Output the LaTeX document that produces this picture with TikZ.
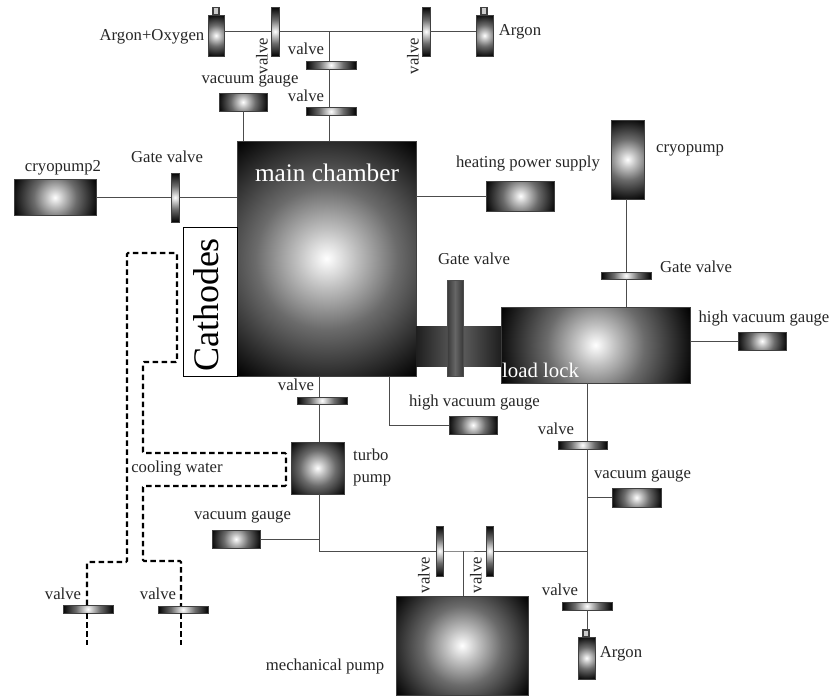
\documentclass[tikz,border=0pt]{standalone}
\usepackage{fontspec}
\setmainfont{Liberation Serif}
\usetikzlibrary{calc}
\pgfdeclareradialshading{glow}{\pgfpoint{0bp}{0bp}}{color(0bp)=(white); color(5bp)=(black!25); color(12bp)=(black!58); color(25bp)=(black); color(50bp)=(black)}
\tikzset{
	unitbox/.style={inner sep=0pt, outer sep=0pt, fill=black, draw=black!75, line width=0.6pt},
	tube/.style={inner sep=0pt, outer sep=0pt, left color=black!88, right color=black!88, middle color=black!62},
	neck/.style={draw=black!75, fill=black!20, line width=1.2pt, inner sep=0pt, outer sep=0pt},
	pipe/.style={draw=black!70, line width=1pt},
	water/.style={draw=black, line width=2.1pt, dash pattern=on 5.5pt off 3.5pt, rounded corners=1pt},
	lab/.style={font=\fontsize{16.7}{18}\selectfont, text=black!85, inner sep=0pt},
}
\begin{document}
\begin{tikzpicture}[x=1pt, y=-1pt]
	\def\unit#1#2#3#4#5{\pgfmathsetmacro\glowR{0.5*veclen(#4,#5)}
		\node[unitbox, minimum width=#4pt, minimum height=#5pt, path picture={\shade[shading=glow] (path picture bounding box.center) circle (\glowR pt);}] (#1) at (#2,#3) {};}
	\useasboundingbox (0,0) rectangle (830,696);
	% chambers
	\unit{mainchamber}{326.5}{258.5}{179}{235}
	\unit{loadlock}{595.5}{345}{189}{76}
	\node[tube, minimum width=85pt, minimum height=40pt] (tunnel) at (458.5,346) {};
	\node[tube, minimum width=16pt, minimum height=96pt, left color=black!78, right color=black!78, middle color=black!60, draw=black!70, line width=0.6pt] (gatemain) at (455,328) {};
	\node[draw=black, fill=white, line width=0.8pt, minimum width=54pt, minimum height=149pt, inner sep=0pt, outer sep=0pt] (cathodes) at (210,301.5) {};
	\node[rotate=90, inner sep=0pt, font=\fontsize{36}{36}\selectfont] (cathodeslab) at (206,305) {Cathodes};
	% pumps and supplies
	\unit{cryotwo}{55}{197.5}{82}{36}
	\unit{heating}{520.5}{196}{68}{30}
	\unit{cryopump}{627.5}{159.5}{33}{79}
	\unit{turbo}{317.5}{468}{53}{52}
	\unit{mechpump}{462}{645.5}{132}{99}
	% gauges
	\unit{gaugetop}{243}{102}{48}{18}
	\unit{gaugehigh}{762}{341}{48}{18}
	\unit{gaugemid}{473}{425}{48}{18}
	\unit{gaugeright}{636.5}{497.5}{49}{19}
	\unit{gaugeleft}{236}{539}{48}{18}
	% gas bottles
	\unit{bottlemix}{216}{35.5}{16}{41}
	\node[neck, minimum width=6pt, minimum height=7pt] (neckmix) at (216,11) {};
	\unit{bottleargon}{484.5}{35.5}{17}{41}
	\node[neck, minimum width=6pt, minimum height=7pt] (neckargon) at (484,11) {};
	\unit{bottlelow}{586.5}{658}{17}{42}
	\node[neck, minimum width=6pt, minimum height=7pt] (necklow) at (586,633.5) {};
	% valves
	\unit{valvemix}{275}{31.5}{8}{49}
	\unit{valveargon}{426}{31.5}{8}{49}
	\unit{valveone}{331}{65}{50}{8}
	\unit{valvetwo}{331}{111.5}{50}{8}
	\unit{gateleft}{175}{197.5}{8}{49}
	\unit{gatecryo}{626}{275.5}{50}{7}
	\unit{valveturbo}{322}{400.5}{50}{7}
	\unit{valvelock}{582.5}{445}{49}{8}
	\unit{valvepumpa}{439.5}{551}{7}{50}
	\unit{valvepumpb}{489.5}{551}{7}{50}
	\unit{valvelow}{587}{606}{50}{8}
	\unit{valvewatera}{88}{609}{50}{8}
	\unit{valvewaterb}{183}{609.5}{50}{7}
	% junctions
	\coordinate (mixtop) at (329,31.5);
	\coordinate (turbojoin) at (319,551);
	\coordinate (pumpjoin) at (463,551);
	\coordinate (lockjoin) at (587,551);
	% gas lines
	\draw[pipe] (bottlemix.east |- valvemix.west) -- (valvemix.west);
	\draw[pipe] (valvemix.east) -- (mixtop) -- (valveargon.west);
	\draw[pipe] (valveargon.east) -- (bottleargon.west |- valveargon.east);
	\draw[pipe] (mixtop) -- (mixtop |- valveone.north);
	\draw[pipe] (mixtop |- valveone.south) -- (mixtop |- valvetwo.north);
	\draw[pipe] (mixtop |- valvetwo.south) -- (mixtop |- mainchamber.north);
	\draw[pipe] (gaugetop.south) -- (gaugetop.south |- mainchamber.north);
	\draw[pipe] (cryotwo.east) -- (gateleft.west);
	\draw[pipe] (gateleft.east) -- (mainchamber.west |- gateleft.east);
	\draw[pipe] (mainchamber.east |- heating.west) -- (heating.west);
	\draw[pipe] (cryopump.south -| gatecryo) -- (gatecryo.north);
	\draw[pipe] (gatecryo.south) -- (gatecryo.south |- loadlock.north);
	\draw[pipe] (loadlock.east |- gaugehigh.west) -- (gaugehigh.west);
	\draw[pipe] (mainchamber.south -| turbojoin) -- (turbojoin |- valveturbo.north);
	\draw[pipe] (turbojoin |- valveturbo.south) -- (turbojoin |- turbo.north);
	\draw[pipe] (turbojoin |- turbo.south) -- (turbojoin);
	\draw[pipe] (gaugeleft.east) -- (gaugeleft.east -| turbojoin);
	\draw[pipe] (turbojoin) -- (valvepumpa.west);
	\draw[pipe] (valvepumpa.east) -- (pumpjoin) -- (valvepumpb.west);
	\draw[pipe] (valvepumpb.east) -- (lockjoin);
	\draw[pipe] (pumpjoin) -- (pumpjoin |- mechpump.north);
	\draw[pipe] (lockjoin |- loadlock.south) -- (lockjoin |- valvelock.north);
	\draw[pipe] (lockjoin |- valvelock.south) -- (lockjoin);
	\draw[pipe] (lockjoin) -- (lockjoin |- valvelow.north);
	\draw[pipe] (lockjoin |- valvelow.south) -- (lockjoin |- necklow.north);
	\draw[pipe] (lockjoin |- gaugeright.west) -- (gaugeright.west);
	\draw[pipe] (389,376) |- (gaugemid.west);
	% cooling water
	\coordinate (waterc) at (87,645);
	\coordinate (waterd) at (181,645);
	\draw[water] (valvewatera.north -| waterc) -- (87,562) -- (127,562) -- (127,253) -- (177,253) -- (177,362) -- (143,362) -- (143,453) -- (286,453) -- (286,486) -- (143,486) -- (143,561) -- (181,561) -- (valvewaterb.north -| waterd);
	\draw[water] (valvewatera.south -| waterc) -- (waterc);
	\draw[water] (valvewaterb.south -| waterd) -- (waterd);
	% labels
	\node[inner sep=0pt, text=white, font=\fontsize{25.3}{26}\selectfont] (mainlab) at (327,173) {main chamber};
	\node[inner sep=0pt, text=white, font=\fontsize{20.8}{21}\selectfont] (locklab) at (540.5,370) {load lock};
	\node[lab] (mixlab) at (152,37) {Argon+Oxygen};
	\node[lab] (argonlab) at (520,32) {Argon};
	\node[lab] (arlowlab) at (621,654) {Argon};
	\node[lab, rotate=90] (valvelaba) at (262,56) {valve};
	\node[lab, rotate=90] (valvelabb) at (413,56) {valve};
	\node[lab] (valvelabc) at (306,49) {valve};
	\node[lab] (valvelabd) at (306,96) {valve};
	\node[lab] (gaugetoplab) at (250,81) {vacuum gauge};
	\node[lab] (gateleftlab) at (167,157) {Gate valve};
	\node[lab] (cryotwolab) at (63,168) {cryopump2};
	\node[lab] (heatlab) at (528,164) {heating power supply};
	\node[lab] (cryolab) at (690,150) {cryopump};
	\node[lab] (gatemainlab) at (474,259) {Gate valve};
	\node[lab] (gatecryolab) at (696,267) {Gate valve};
	\node[lab] (gaugehighlab) at (764,319) {high vacuum gauge};
	\node[lab] (valvelabe) at (296,385) {valve};
	\node[lab] (gaugemidlab) at (474.5,403) {high vacuum gauge};
	\node[lab] (valvelabf) at (556,429) {valve};
	\node[lab, align=left, anchor=west] (turbolab) at (353,467) {turbo\\[4pt]pump};
	\node[lab] (gaugerightlab) at (642.5,476) {vacuum gauge};
	\node[lab] (waterlab) at (177,469) {cooling water};
	\node[lab] (gaugeleftlab) at (242.5,517) {vacuum gauge};
	\node[lab, rotate=90] (valvelabg) at (424,575) {valve};
	\node[lab, rotate=90] (valvelabh) at (476,575) {valve};
	\node[lab] (valvelabi) at (560,590) {valve};
	\node[lab] (valvelabj) at (63,594) {valve};
	\node[lab] (valvelabk) at (158,594) {valve};
	\node[lab] (mechlab) at (325,666) {mechanical pump};
\end{tikzpicture}
\end{document}
